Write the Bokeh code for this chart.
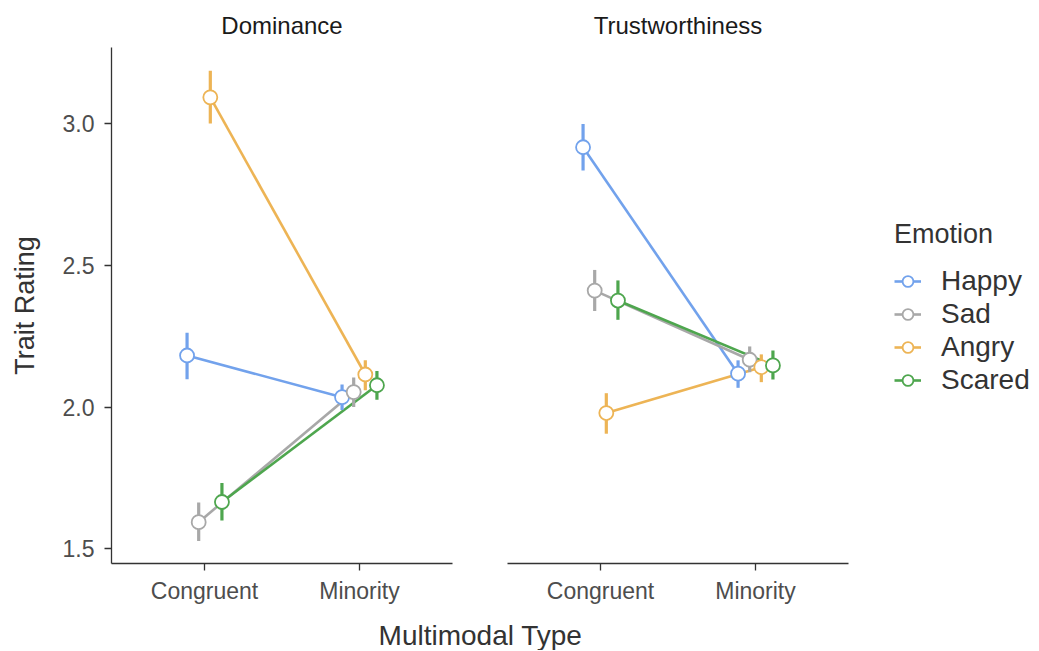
from bokeh.plotting import figure
from bokeh.models import (FactorRange, Range1d, FixedTicker, ColumnDataSource,
                          Legend, LegendItem, Label, PrintfTickFormatter)
from bokeh.transform import dodge
from bokeh.layouts import column, row
from bokeh.embed import file_html
from bokeh.resources import INLINE

FONT = "Liberation Sans"

# ---------------- data ----------------
types = ["Congruent", "Minority"]
emotions = ["Happy", "Sad", "Angry", "Scared"]
colors = ["#72a2ec", "#a8a8a8", "#edb455", "#4ea64e"]
panels = ["Dominance", "Trustworthiness"]

# values in emotion order: Happy, Sad, Angry, Scared
dom_congruent_mean = [2.182, 1.594, 3.093, 1.665]
dom_congruent_lo = [2.098, 1.527, 3.001, 1.600]
dom_congruent_hi = [2.262, 1.663, 3.187, 1.732]
dom_minority_mean = [2.035, 2.053, 2.115, 2.077]
dom_minority_lo = [1.990, 2.000, 2.059, 2.026]
dom_minority_hi = [2.080, 2.104, 2.165, 2.127]

trust_congruent_mean = [2.917, 2.411, 1.979, 2.376]
trust_congruent_lo = [2.835, 2.339, 1.906, 2.308]
trust_congruent_hi = [2.999, 2.484, 2.049, 2.447]
trust_minority_mean = [2.118, 2.167, 2.141, 2.147]
trust_minority_lo = [2.068, 2.123, 2.088, 2.097]
trust_minority_hi = [2.165, 2.214, 2.186, 2.200]

y_ticks = [1.5, 2.0, 2.5, 3.0]
dodge_offsets = [-0.1125, -0.0375, 0.0375, 0.1125]

FRAME_W, FRAME_H = 341, 516
TOP, BOTTOM = 47, 44


def make_panel(title, c_mean, c_lo, c_hi, m_mean, m_lo, m_hi, left, border_left, border_right):
    p = figure(
        x_range=FactorRange(*types, range_padding=0.1, range_padding_units="absolute"),
        y_range=Range1d(1.448, 3.269),
        frame_width=FRAME_W, frame_height=FRAME_H,
        min_border_top=TOP, min_border_bottom=BOTTOM,
        min_border_left=border_left, min_border_right=border_right,
        output_backend="svg", toolbar_location=None,
        y_axis_location="left" if left else None,
        title=title,
    )
    p.title.align = "center"
    p.title.text_font = FONT
    p.title.text_font_size = "24px"
    p.title.text_font_style = "normal"
    p.title.text_color = "#1a1a1a"
    p.title.standoff = 17
    p.grid.visible = False
    p.outline_line_color = None
    p.background_fill_color = "white"
    p.border_fill_color = "white"

    axes = [p.xaxis[0]] + ([p.yaxis[0]] if left else [])
    for ax in axes:
        ax.axis_line_color = "#333333"
        ax.axis_line_width = 1.3
        ax.major_tick_line_color = "#333333"
        ax.major_tick_line_width = 1.3
        ax.major_tick_out = 7
        ax.major_tick_in = 0
        ax.minor_tick_line_color = None
        ax.major_label_text_font = FONT
        ax.major_label_text_font_size = "23px"
        ax.major_label_text_color = "#4d4d4d"
    p.xaxis.major_label_standoff = 7
    if left:
        p.yaxis.ticker = FixedTicker(ticks=y_ticks)
        p.yaxis.formatter = PrintfTickFormatter(format="%.1f")
        p.yaxis.major_label_standoff = 10
        p.yaxis.axis_label = "Trait Rating"
        p.yaxis.axis_label_text_font = FONT
        p.yaxis.axis_label_text_font_size = "27px"
        p.yaxis.axis_label_text_font_style = "normal"
        p.yaxis.axis_label_text_color = "#333333"
        p.yaxis.axis_label_standoff = 20

    lines, points = [], []
    srcs = []
    for i, emo in enumerate(emotions):
        src = ColumnDataSource(dict(x=types, y=[c_mean[i], m_mean[i]],
                                    lo=[c_lo[i], m_lo[i]], hi=[c_hi[i], m_hi[i]]))
        srcs.append(src)
        xd = dodge("x", dodge_offsets[i], range=p.x_range)
        lines.append(p.line(x=xd, y="y", source=src, line_color=colors[i], line_width=2.6))
    for i, emo in enumerate(emotions):
        xd = dodge("x", dodge_offsets[i], range=p.x_range)
        p.segment(x0=xd, y0="lo", x1=xd, y1="hi", source=srcs[i],
                  line_color=colors[i], line_width=3.2)
        points.append(p.scatter(x=xd, y="y", source=srcs[i], size=14, fill_color="white",
                                line_color=colors[i], line_width=1.8))
    return p, lines, points


p1, _, _ = make_panel(panels[0], dom_congruent_mean, dom_congruent_lo, dom_congruent_hi,
                      dom_minority_mean, dom_minority_lo, dom_minority_hi,
                      True, 111, 5)
p2, lines2, points2 = make_panel(panels[1], trust_congruent_mean, trust_congruent_lo,
                                 trust_congruent_hi, trust_minority_mean, trust_minority_lo,
                                 trust_minority_hi, False, 50, 190)

items = [LegendItem(label=emo, renderers=[lines2[i], points2[i]]) for i, emo in enumerate(emotions)]
legend = Legend(items=items, location=(46, 167), title="Emotion",
                margin=0, padding=4,
                label_text_font=FONT, label_text_font_size="28px", label_text_color="#333333",
                title_text_font=FONT, title_text_font_size="27px", title_text_color="#333333",
                title_text_font_style="normal", title_standoff=15,
                glyph_width=27, glyph_height=28, label_height=28, label_standoff=20,
                spacing=1, border_line_color=None, background_fill_alpha=0)
p2.add_layout(legend, "right")

# shared x-axis title strip
p3 = figure(width=1038, height=43, x_range=Range1d(0, 1038), y_range=Range1d(0, 43),
            min_border=0, output_backend="svg", toolbar_location=None,
            x_axis_location=None, y_axis_location=None)
p3.grid.visible = False
p3.outline_line_color = None
p3.add_layout(Label(x=480, y=15, text="Multimodal Type", text_align="center",
                    text_baseline="alphabetic", text_font=FONT, text_font_size="28px",
                    text_color="#333333"))

layout = column(row(p1, p2), p3)
open("out.html", "w").write(file_html(layout, INLINE))
